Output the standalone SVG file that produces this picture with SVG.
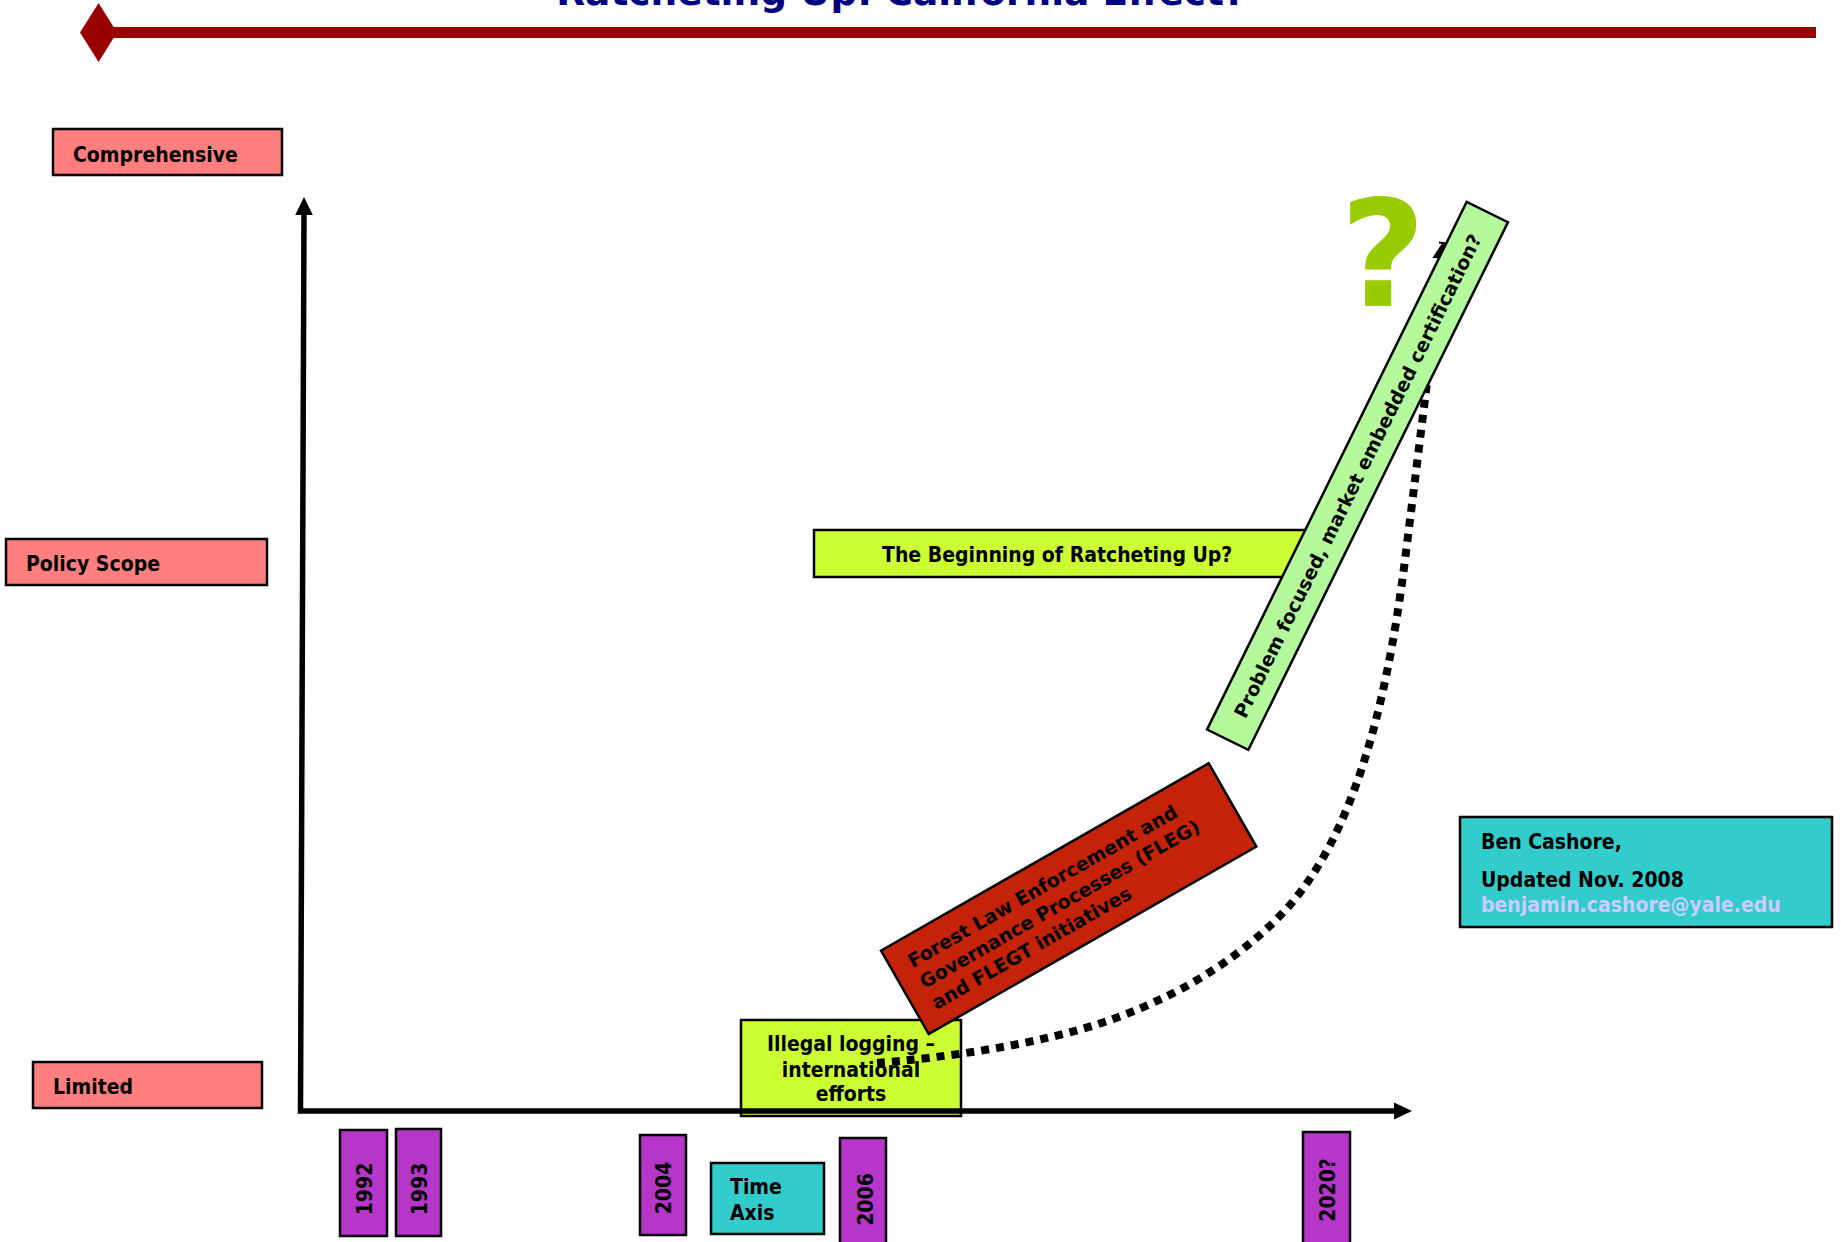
<svg xmlns="http://www.w3.org/2000/svg" width="1841" height="1242" viewBox="0 0 1841 1242">
<defs>
<style>
.t{font-family:"DejaVu Sans Condensed","Liberation Sans",sans-serif;font-stretch:condensed;font-weight:bold;fill:#000}
.d{font-family:"DejaVu Sans",sans-serif;font-weight:bold;fill:#000}
.box{stroke:#000;stroke-width:2.5}
.sal{fill:#FF7F7F}
.pur{fill:#B536C8}
.cy{fill:#33CCCC}
.yg{fill:#CCFF33}
.ax{fill:none;stroke:#000;stroke-width:5.5}
</style>
<marker id="ah" markerUnits="userSpaceOnUse" markerWidth="18" markerHeight="18" refX="17" refY="9" orient="auto">
<path d="M0,0 L17,9 L0,18 Z" fill="#000"/>
</marker>
</defs>
<rect width="1841" height="1242" fill="#fff"/>

<g id="title">
<text x="901" y="5" text-anchor="middle" font-family="DejaVu Sans, sans-serif" font-weight="bold" font-size="37.5" fill="#000080">Ratcheting Up: California Effect?</text>
<path d="M80,32.5 L98.6,3 L117,32.5 L98.6,62 Z" fill="#990000"/>
<line x1="110" y1="32.5" x2="1816" y2="32.5" stroke="#990000" stroke-width="11"/>
</g>

<g id="comprehensive"><rect class="box sal" x="53" y="129" width="229" height="46"/><text class="t" x="73" y="162" font-size="21">Comprehensive</text></g>
<g id="policy-scope"><rect class="box sal" x="6" y="539" width="261" height="46"/><text class="t" x="26" y="571" font-size="21">Policy Scope</text></g>
<g id="limited"><rect class="box sal" x="33" y="1062" width="229" height="46"/><text class="t" x="53" y="1094" font-size="21">Limited</text></g>

<g id="y1992"><rect class="box pur" x="340" y="1130" width="47" height="106"/><text class="t" transform="translate(364.5,1189) rotate(-90)" x="0" y="7.5" text-anchor="middle" font-size="21">1992</text></g>
<g id="y1993"><rect class="box pur" x="396" y="1129" width="45" height="107"/><text class="t" transform="translate(419,1189) rotate(-90)" x="0" y="7.5" text-anchor="middle" font-size="21">1993</text></g>
<g id="y2004"><rect class="box pur" x="640" y="1135" width="46" height="100"/><text class="t" transform="translate(663.5,1188) rotate(-90)" x="0" y="7.5" text-anchor="middle" font-size="21">2004</text></g>
<g id="time-axis"><rect class="box cy" x="711" y="1163" width="113" height="71"/><text class="t" x="730" y="1194" font-size="21">Time</text><text class="t" x="730" y="1220" font-size="21">Axis</text></g>
<g id="y2006"><rect class="box pur" x="840" y="1138" width="46" height="110"/><text class="t" transform="translate(865,1199.5) rotate(-90)" x="0" y="7.5" text-anchor="middle" font-size="21">2006</text></g>
<g id="y2020"><rect class="box pur" x="1303" y="1132" width="47" height="116"/><text class="t" transform="translate(1327,1190) rotate(-90)" x="0" y="7.5" text-anchor="middle" font-size="21">2020?</text></g>

<g id="illegal-logging"><rect class="box yg" x="741" y="1020" width="220" height="96"/>
<text class="t" text-anchor="middle" font-size="21"><tspan x="851" y="1051">Illegal logging –</tspan><tspan x="851" y="1077">international</tspan><tspan x="851" y="1101">efforts</tspan></text></g>

<g id="beginning"><rect class="box yg" x="814" y="530" width="500" height="47"/><text class="t" x="882" y="562" font-size="21">The Beginning of Ratcheting Up?</text></g>

<g id="author"><rect class="box cy" x="1460" y="817" width="372" height="110"/>
<text class="t" x="1481" y="849" font-size="21">Ben Cashore,</text>
<text class="t" x="1481" y="887" font-size="21">Updated Nov. 2008</text>
<text class="t" x="1481" y="912" font-size="21" style="fill:#CCCCFF">benjamin.cashore@yale.edu</text></g>

<g id="connectors">
<path class="ax" d="M304,215 L300.5,1111 L1395,1111"/>
<path d="M304,197 L312.8,215 L295.2,215 Z" fill="#000"/>
<path d="M1412,1111 L1394,1102.5 L1394,1119.5 Z" fill="#000"/>
<path d="M877,1063 C940,1058 1040,1045 1110,1020 C1190,992 1250,950 1290,905 C1350,835 1385,720 1405,560 C1420,440 1435,320 1443,242" fill="none" stroke="#000" stroke-width="8" stroke-dasharray="8 7" marker-end="url(#ah)"/>
</g>

<g id="question"><text x="1383" y="306" text-anchor="middle" font-family="DejaVu Sans, sans-serif" font-weight="bold" font-size="148" fill="#99CC00">?</text></g>

<g id="fleg" transform="translate(1068.7,898.6) rotate(-29.76)">
<rect class="box" x="-188.7" y="-48" width="377.4" height="96" fill="#C42209"/>
<text class="d" font-size="19"><tspan x="-170" y="-17">Forest Law Enforcement and</tspan><tspan x="-170" y="7">Governance Processes (FLEG)</tspan><tspan x="-170" y="31">and FLEGT initiatives</tspan></text>
</g>

<g id="problem-focused" transform="translate(1357.5,475.9) rotate(-63.8)">
<rect class="box" x="-294" y="-23" width="588" height="46" fill="#B4FA9C"/>
<text class="d" x="0" y="7" text-anchor="middle" font-size="19">Problem focused, market embedded certification?</text>
</g>
</svg>
